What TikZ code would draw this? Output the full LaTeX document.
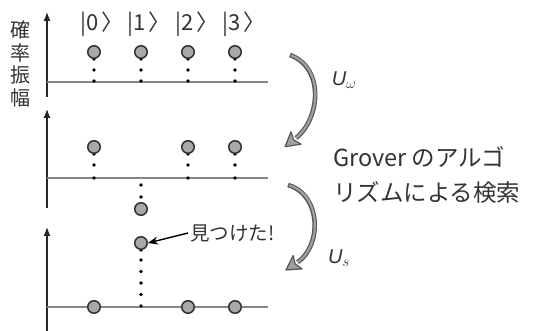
\documentclass[tikz,border=0pt]{standalone}
\usepackage{fontspec}
\newfontfamily\cjk{Noto Sans CJK JP}
\newfontfamily\lsans{Liberation Sans}
\usetikzlibrary{arrows.meta}
\definecolor{axgray}{HTML}{8C8484}
\definecolor{txt}{HTML}{333333}
\definecolor{ampfill}{HTML}{A8A8A8}
\definecolor{arcdark}{HTML}{555555}
\definecolor{arcfill}{HTML}{A0A0A0}
\begin{document}
\begin{tikzpicture}[x=1pt,y=-1pt,
  haxis/.style={line width=1.4pt, draw=axgray},
  vaxis/.style={line width=1.2pt, draw=black!85, -{Latex[length=9pt,width=7pt]}},
  amp/.style={circle, draw=black!80, line width=1.5pt, fill=ampfill, minimum size=12.5pt, inner sep=0pt},
  dotmark/.style={fill=black},
  ket/.style={font=\cjk\fontsize{22}{24}\selectfont, text=txt, inner sep=0pt},
  arcout/.style={line width=4.6pt, draw=arcdark},
  arcin/.style={line width=2.2pt, draw=arcfill, shorten <=1.2pt},
  archead/.style={fill=arcfill, draw=arcdark, line width=1.2pt, line join=round},
  lbl/.style={text=txt, inner sep=0pt}
]
\useasboundingbox (0,0) rectangle (542,331);

% ---------- axes ----------
\coordinate (v1b) at (47,97);  \coordinate (v1t) at (47,12);
\coordinate (v2b) at (47,208); \coordinate (v2t) at (47,109);
\coordinate (v3b) at (47,331); \coordinate (v3t) at (47,227);
\draw[vaxis] (v1b) -- (v1t);
\draw[vaxis] (v2b) -- (v2t);
\draw[vaxis] (v3b) -- (v3t);
\coordinate (h1a) at (47,82);  \coordinate (h1b) at (268,82);
\coordinate (h2a) at (47,178); \coordinate (h2b) at (268,178);
\coordinate (h3a) at (47,307); \coordinate (h3b) at (268,307);
\draw[haxis] (h1a) -- (h1b);
\draw[haxis] (h2a) -- (h2b);
\draw[haxis] (h3a) -- (h3b);

% ---------- y label ----------
\node[lbl, font=\cjk\fontsize{20}{22.5}\selectfont, align=center] (ylab) at (21,64) {確\\率\\振\\幅};

% ---------- kets ----------
\node[ket] (k0) at (96,24) {|0\,\makebox[0.45em][l]{〉}};
\node[ket] (k1) at (143,24) {|1\,\makebox[0.45em][l]{〉}};
\node[ket] (k2) at (191,24) {|2\,\makebox[0.45em][l]{〉}};
\node[ket] (k3) at (238,24) {|3\,\makebox[0.45em][l]{〉}};

% ---------- panel 1 ----------
\foreach \i/\x in {0/94,1/141,2/188,3/235}{
  \foreach \y in {81,70,59}{ \fill[dotmark] (\x,\y) circle (1.8pt); }
  \node[amp] (a1\i) at (\x,52) {};
}

% ---------- panel 2 ----------
\foreach \i/\x in {0/94,2/188,3/235}{
  \foreach \y in {178,165,154}{ \fill[dotmark] (\x,\y) circle (1.8pt); }
  \node[amp] (a2\i) at (\x,147) {};
}
\foreach \y in {185,197}{ \fill[dotmark] (141,\y) circle (1.8pt); }
\node[amp] (a21) at (141,209) {};

% ---------- panel 3 ----------
\foreach \i/\x in {0/94,2/188,3/235}{
  \node[amp] (a3\i) at (\x,307) {};
}
\foreach \y in {306,294.5,283,271.5,260,250}{ \fill[dotmark] (141,\y) circle (1.8pt); }
\node[amp] (a31) at (141,243) {};

% found label
\node[lbl, anchor=west, font=\cjk\fontsize{19.5}{22}\selectfont] (find) at (190,233) {見つけた!};
\draw[line width=1.4pt, -{Stealth[length=10pt,width=8pt]}] ([xshift=-2pt]find.west) -- (a31.east);

% ---------- curved arrows ----------
\coordinate (c1s) at (290,55);
\coordinate (c1e) at (296,138);
\draw[arcout] (c1s) .. controls (325,68) and (320,119) .. (c1e);
\draw[arcin] (c1s) .. controls (325,68) and (320,119) .. (c1e);
\draw[archead] (285.1,146.7) -- (301,144.2) -- (293.7,139.9) -- (291,131.8) -- cycle;

\coordinate (c2s) at (288,185);
\coordinate (c2e) at (297.6,262.2);
\draw[arcout] (c2s) .. controls (322,195) and (321.6,246.2) .. (c2e);
\draw[arcin] (c2s) .. controls (322,195) and (321.6,246.2) .. (c2e);
\draw[archead] (286,270) -- (302,268.9) -- (295.1,263.9) -- (293.2,255.5) -- cycle;

\node[lbl, font=\fontsize{20}{22}\selectfont] (uw) at (344,80) {{\lsans\itshape U}$_\omega$};
\node[lbl, font=\fontsize{20}{22}\selectfont] (us) at (339,258) {{\lsans\itshape U}$_s$};

% ---------- title ----------
\node[lbl, anchor=west, align=left, font=\cjk\fontsize{23.5}{35}\selectfont] (title) at (333,175) {Grover のアルゴ\\リズムによる検索};
\end{tikzpicture}
\end{document}
